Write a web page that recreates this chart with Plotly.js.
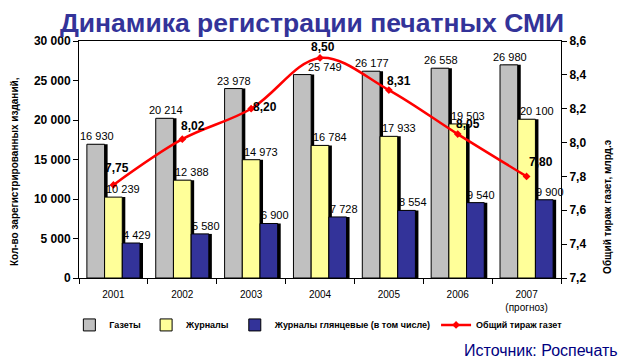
<!DOCTYPE html>
<html>
<head>
<meta charset="utf-8">
<script src="https://cdn.plot.ly/plotly-3.0.1.min.js"></script>
<style>html,body{margin:0;padding:0;background:#fff;}#chart{width:627px;height:361px;}</style>
</head>
<body>
<div id="chart"></div>
<script>
const years = ['2001','2002','2003','2004','2005','2006','2007<br>(прогноз)'];
const gazety = [16930,20214,23978,25749,26177,26558,26980];
const zhurnaly = [10239,12388,14973,16784,17933,19503,20100];
const glossy = [4429,5580,6900,7728,8554,9540,9900];
const tirazh = [7.75,8.02,8.20,8.50,8.31,8.05,7.80];
const seriesNames = ['Газеты','Журналы','Журналы глянцевые (в том числе)','Общий тираж газет'];

// styling (not data)
const barW = 0.257;
const barOffsets = [-0.3855,-0.1285,0.1285];
const barColors = ['#C0C0C0','#FFFF99','#333399'];
const shadowShift = 0.044;
const labelShiftPx = [[1,1,1,23,1,1,1],[10,10,10,10,10,10,10],[6,6,6,6,6,6,6]];
const lineLblDx = [4,11,14,3,10,10,14];
const lineLblDy = [17,13,2,11,9,10,14];

const FONT = 'Liberation Sans, Arial, sans-serif';
const barSeries = [gazety, zhurnaly, glossy];
const traces = [];
barSeries.forEach((vals,k)=>{
  traces.push({type:'bar', x:years, y:vals, width:years.map(()=>barW),
    offset:years.map(()=>barOffsets[k]+shadowShift),
    marker:{color:'#000000'}, showlegend:false, hoverinfo:'skip'});
  traces.push({type:'bar', x:years, y:vals, name:seriesNames[k], width:years.map(()=>barW),
    offset:years.map(()=>barOffsets[k]),
    marker:{color:barColors[k], line:{color:'#000000', width:1}}});
});
traces.push({type:'scatter', mode:'lines+markers', x:years, y:tirazh, yaxis:'y2',
  name:seriesNames[3], line:{color:'#FF0000', width:2.5, shape:'spline', smoothing:1},
  marker:{symbol:'diamond', size:6, color:'#FF0000'}});

const annotations = [];
barSeries.forEach((vals,k)=>{
  vals.forEach((v,i)=>{
    annotations.push({x:i+barOffsets[k]+barW/2, y:v, xref:'x', yref:'y', text:v.toString().replace(/\B(?=(\d{3})+(?!\d))/g,' '),
      showarrow:false, xshift:labelShiftPx[k][i], yshift:8, yanchor:'middle', xanchor:'center',
      font:{family:FONT, size:11, color:'#000'}});
  });
});
tirazh.forEach((v,i)=>{
  annotations.push({x:i, y:v, xref:'x', yref:'y2', text:'<b>'+v.toFixed(2).replace('.',',')+'</b>',
    showarrow:false, xshift:lineLblDx[i], yshift:lineLblDy[i], xanchor:'center', yanchor:'middle',
    font:{family:FONT, size:12, color:'#000'}});
});
annotations.push({xref:'paper', yref:'paper', x:0, y:0.447, xshift:-65, textangle:-90,
  text:'<b>Кол-во зарегистрированных изданий,</b>', showarrow:false, xanchor:'center', yanchor:'middle',
  font:{family:FONT, size:10, color:'#000'}});
annotations.push({xref:'paper', yref:'paper', x:1, y:0.30, xshift:47, textangle:-90,
  text:'<b>Общий тираж газет, млрд.э</b>', showarrow:false, xanchor:'center', yanchor:'middle',
  font:{family:FONT, size:10, color:'#000'}});
annotations.push({xref:'paper', yref:'paper', x:1, y:-0.305, xshift:59, xanchor:'right', yanchor:'middle',
  text:'Источник: Роспечать', showarrow:false, font:{family:FONT, size:16, color:'#000080'}});

const layout = {
  width:627, height:361,
  margin:{l:79, r:66, t:41, b:83},
  paper_bgcolor:'#fff', plot_bgcolor:'#fff',
  separators:', ',
  barmode:'overlay',
  showlegend:true,
  title:{text:'<b>Динамика регистрации печатных СМИ</b>', x:0.4834, xanchor:'center', xref:'paper', y:0.936, yanchor:'middle', yref:'container',
    font:{family:FONT, size:26.5, color:'#333399'}},
  xaxis:{type:'category', range:[-0.5,6.5], showline:true, linecolor:'#000', linewidth:1, mirror:true,
    ticks:'outside', tickson:'boundaries', ticklen:5, tickcolor:'#000', showgrid:false, ticklabelstandoff:7,
    tickfont:{family:FONT, size:10, color:'#000'}},
  yaxis:{range:[0,30000], dtick:5000, tickformat:',d', showline:true, linecolor:'#000', linewidth:1,
    ticks:'outside', ticklen:5, tickcolor:'#000', showgrid:false, zeroline:false,
    tickfont:{family:FONT, size:12, color:'#000', weight:'bold'}},
  yaxis2:{overlaying:'y', side:'right', range:[7.2,8.6], dtick:0.2, tickformat:'.1f', showline:true,
    linecolor:'#000', linewidth:1, ticks:'outside', ticklen:5, tickcolor:'#000', showgrid:false, zeroline:false,
    tickfont:{family:FONT, size:12, color:'#000', weight:'bold'}},
  legend:{orientation:'h', x:-0.02, xanchor:'left', y:-0.198, yanchor:'middle',
    font:{family:FONT, size:9, color:'#000', weight:'bold'}, itemwidth:30, tracegroupgap:0, bgcolor:'rgba(0,0,0,0)'},
  annotations:annotations
};
Plotly.newPlot('chart', traces, layout, {staticPlot:true, displayModeBar:false});
</script>
</body>
</html>
